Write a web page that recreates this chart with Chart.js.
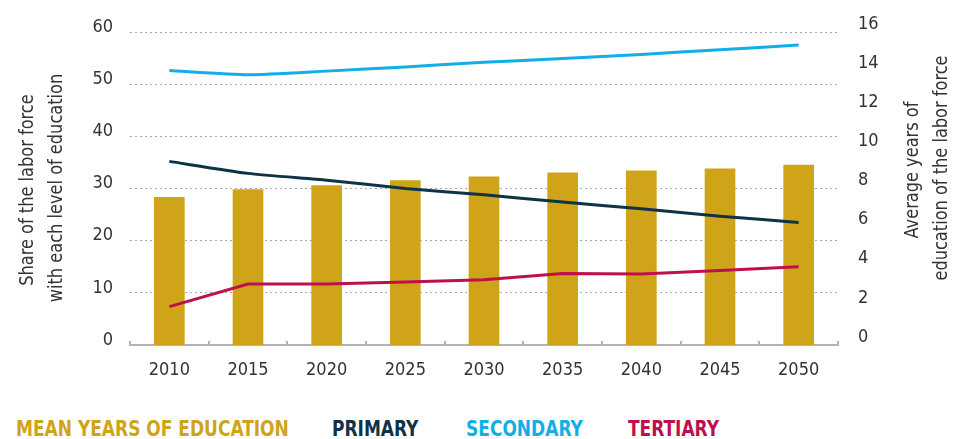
<!DOCTYPE html>
<html>
<head>
<meta charset="utf-8">
<script src="https://cdn.jsdelivr.net/npm/chart.js@4.4.1/dist/chart.umd.min.js"></script>
<style>
  html, body { margin: 0; padding: 0; background: #fff; }
  #wrap { position: relative; width: 958px; height: 439px; overflow: hidden; }
  #box { position: absolute; left: 0; top: 0; width: 958px; height: 395px; }
  #legend span {
    position: absolute; top: 416px; line-height: 22px;
    font: bold 22px "DejaVu Sans Condensed", "DejaVu Sans", sans-serif;
    white-space: nowrap;
    transform: scaleX(0.86); transform-origin: left center;
  }
</style>
</head>
<body>
<div id="wrap">
  <div id="box"><canvas id="chart"></canvas></div>
  <div id="legend">
    <span style="left:16px;color:#cfa418">MEAN YEARS OF EDUCATION</span>
    <span style="left:332px;color:#0d3349">PRIMARY</span>
    <span style="left:466px;color:#12aee8">SECONDARY</span>
    <span style="left:628px;color:#bf0f4f">TERTIARY</span>
  </div>
</div>
<script>
// values
const categories = ['2010', '2015', '2020', '2025', '2030', '2035', '2040', '2045', '2050'];
const meanYears = [7.55, 7.95, 8.15, 8.4, 8.6, 8.8, 8.9, 9.0, 9.2];
const primary = [35.2, 32.9, 31.6, 30.0, 28.8, 27.4, 26.1, 24.7, 23.5];
const secondary = [52.6, 51.8, 52.5, 53.3, 54.2, 54.9, 55.7, 56.6, 57.5];
const tertiary = [7.35, 11.7, 11.7, 12.1, 12.5, 13.7, 13.6, 14.3, 15.0];

const FONT = '"DejaVu Sans Condensed", "DejaVu Sans", sans-serif';
const TEXT = '#333333';

// axis titles read bottom-to-top on both sides, and x ticks point up into the plot
const decor = {
  id: 'decor',
  afterDraw(chart) {
    const { ctx, chartArea, scales } = chart;
    const x = scales.x;
    ctx.save();
    ctx.strokeStyle = '#b3b3b3';
    ctx.lineWidth = 2;
    for (let i = 0; i <= categories.length; i++) {
      const px = Math.round(x.getPixelForValue(i - 0.5));
      ctx.beginPath();
      ctx.moveTo(px, chartArea.bottom);
      ctx.lineTo(px, chartArea.bottom - 4);
      ctx.stroke();
    }
    ctx.fillStyle = TEXT;
    ctx.font = '20px ' + FONT;
    ctx.textAlign = 'center';
    ctx.textBaseline = 'middle';
    const title = (cx, cy, text) => {
      ctx.save();
      ctx.translate(cx, cy);
      ctx.rotate(-Math.PI / 2);
      ctx.scale(0.9, 1);
      ctx.fillText(text, 0, 0);
      ctx.restore();
    };
    title(28, 190, 'Share of the labor force');
    title(57, 188, 'with each level of education');
    title(913, 170, 'Average years of');
    title(942, 168, 'education of the labor force');
    ctx.restore();
  }
};

new Chart(document.getElementById('chart'), {
  data: {
    labels: categories,
    datasets: [
      {
        type: 'line',
        label: 'Primary',
        data: primary,
        yAxisID: 'y',
        borderColor: '#0d3349',
        borderWidth: 3,
        pointRadius: 0,
        tension: 0.2,
        order: 1,
      },
      {
        type: 'line',
        label: 'Secondary',
        data: secondary,
        yAxisID: 'y',
        borderColor: '#12aee8',
        borderWidth: 3,
        pointRadius: 0,
        tension: 0.2,
        order: 1,
      },
      {
        type: 'line',
        label: 'Tertiary',
        data: tertiary,
        yAxisID: 'y',
        borderColor: '#bf0f4f',
        borderWidth: 3,
        pointRadius: 0,
        tension: 0,
        order: 1,
      },
      {
        type: 'bar',
        label: 'Mean years of education',
        data: meanYears,
        yAxisID: 'y1',
        backgroundColor: '#cfa418',
        barThickness: 30,
        order: 2,
      },
    ],
  },
  options: {
    responsive: true,
    maintainAspectRatio: false,
    animation: false,
    layout: { padding: { top: 32, left: 0, right: 0, bottom: 0 } },
    plugins: {
      legend: { display: false },
      tooltip: { enabled: false },
    },
    scales: {
      x: {
        z: 1,
        offset: true,
        grid: { display: true, drawOnChartArea: false, drawTicks: false },
        border: { display: true, color: '#b3b3b3', width: 2 },
        ticks: { color: TEXT, font: { family: FONT, size: 18 }, padding: 15, maxRotation: 0 },
        afterFit: (s) => { s.height = 50; },
      },
      y: {
        position: 'left',
        min: 0,
        max: 60,
        ticks: { stepSize: 10, color: TEXT, font: { family: FONT, size: 18 }, padding: 17, labelOffset: -5 },
        grid: {
          drawTicks: false,
          color: (c) => (c.tick.value === 0 ? 'rgba(0,0,0,0)' : '#a8a8a8'),
          lineWidth: 1,
        },
        border: { display: false, dash: [2, 3] },
        afterFit: (s) => { s.width = 130; },
      },
      y1: {
        position: 'right',
        min: 0,
        max: 16,
        ticks: { stepSize: 2, color: TEXT, font: { family: FONT, size: 18 }, padding: 20, labelOffset: -8 },
        grid: { display: false, drawTicks: false },
        border: { display: false },
        afterFit: (s) => { s.width = 120; },
      },
    },
  },
  plugins: [decor],
});
</script>
</body>
</html>
